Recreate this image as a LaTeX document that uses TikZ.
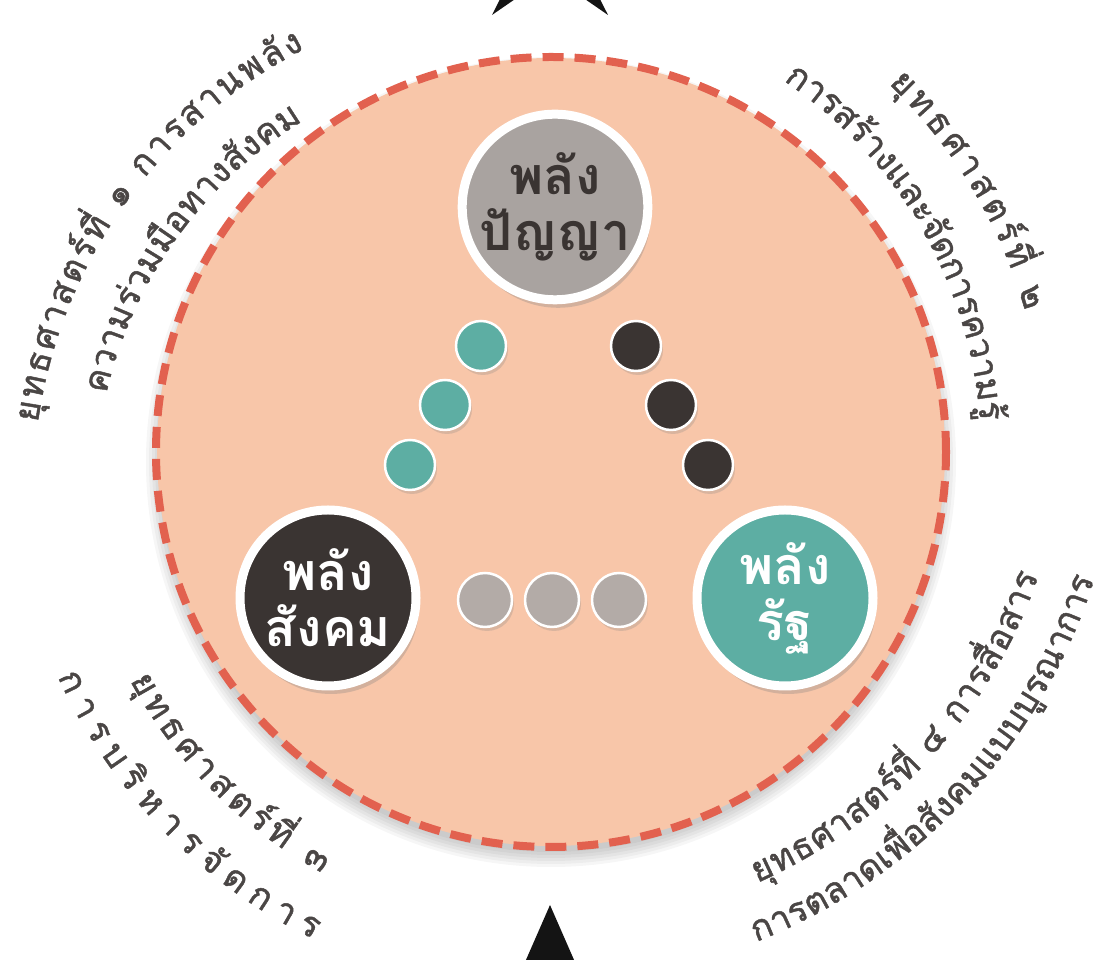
\documentclass[tikz,border=0pt]{standalone}
\usepackage{fontspec}
\setmainfont[Script=Thai]{Loma}
\newfontfamily\arcthai[Script=Thai, FakeBold=1.3]{Loma}
\usetikzlibrary{decorations.text,shadows}

\definecolor{peach}{HTML}{F8C6A9}
\definecolor{dashred}{HTML}{E2614F}
\definecolor{stateteal}{HTML}{5DAEA3}
\definecolor{socialdark}{HTML}{3A3432}
\definecolor{wisegrey}{HTML}{A9A3A0}
\definecolor{beadgrey}{HTML}{B3ABA7}
\definecolor{textgrey}{HTML}{4A4645}

\newcommand\arcfont{\arcthai\fontsize{35}{35}\selectfont}

\tikzset{
  power/.style={circle, draw=white, line width=9pt, minimum size=176pt, inner sep=0pt,
    align=center, font=\bfseries\fontsize{52}{56}\selectfont,
    drop shadow={shadow xshift=3pt, shadow yshift=-8pt, opacity=.3}},
  bead/.style={circle, draw=white, line width=2.5pt, minimum size=50pt, inner sep=0pt,
    drop shadow={shadow xshift=2pt, shadow yshift=-4pt, opacity=.25}},
  arctext/.style={decorate, decoration={text along path, text color=textgrey,
    text align=fit to path}}
}

\begin{document}
\begin{tikzpicture}[x=1pt,y=1pt]
  \useasboundingbox (0,0) rectangle (1111,960);
  \clip (0,0) rectangle (1111,960);
  \fill[white] (0,0) rectangle (1111,960);

  % arrow heads cut by the frame
  \fill[black!92] (550,1060) -- (608,945) -- (550,985) -- (492,945) -- cycle;
  \fill[black!92] (550,55) -- (515,-25) -- (585,-25) -- cycle;

  % the ring
  \foreach \r in {0,3,...,15}
    \fill[black, opacity=.035] (551,498) circle (390+\r);
  \fill[peach] (551,508) circle (394);
  \draw[dashred, line width=8pt, dash pattern=on 21pt off 11pt] (551,508) circle (395);

  % three powers
  \node[power, fill=wisegrey, text=socialdark] (wisdom) at (555,753) {พลัง\\ปัญญา};
  \node[power, fill=socialdark, text=white] (society) at (328,362) {พลัง\\สังคม};
  \node[power, fill=stateteal, text=white] (state) at (785,362) {พลัง\\รัฐ};

  % beads between them
  \node[bead, fill=stateteal] (t1) at (481,614) {};
  \node[bead, fill=stateteal] (t2) at (445,555) {};
  \node[bead, fill=stateteal] (t3) at (410,495) {};
  \node[bead, fill=socialdark] (d1) at (636,614) {};
  \node[bead, fill=socialdark] (d2) at (671,555) {};
  \node[bead, fill=socialdark] (d3) at (708,495) {};
  \node[bead, fill=beadgrey, minimum size=54pt] (g1) at (485,360) {};
  \node[bead, fill=beadgrey, minimum size=54pt] (g2) at (552,360) {};
  \node[bead, fill=beadgrey, minimum size=54pt] (g3) at (619,360) {};

  % strategy 1
  \path[arctext, decoration={text={|\arcfont|{ยุ}ทธศาสต{ร์}{ที่} ๑ การสานพ{ลั}ง}}]
    [shift={(530,468)}] (172:497) arc[start angle=172, end angle=117, radius=497];
  \path[arctext, decoration={text={|\arcfont|ความ{ร่}วม{มื}อทาง{สั}งคม}}]
    [shift={(530,468)}] (167:435) arc[start angle=167, end angle=121.5, radius=435];
  % strategy 2
  \path[arctext, decoration={text={|\arcfont|{ยุ}ทธศาสต{ร์}{ที่} ๒}}]
    [shift={(533,508)}] (46:512) arc[start angle=46, end angle=16, radius=512];
  \path[arctext, decoration={text={|\arcfont|การส{ร้}างและ{จั}ดการความ{รู้}}}]
    [shift={(533,508)}] (56:448) arc[start angle=56, end angle=4, radius=448];
  % strategy 3
  \path[arctext, decoration={text={|\arcfont|{ยุ}ทธศาสต{ร์}{ที่} ๓}}]
    [shift={(551,508)}] (208.5:479) arc[start angle=208.5, end angle=241.5, radius=479];
  \path[arctext, decoration={text={|\arcfont|การบ{ริ}หาร{จั}ดการ}}]
    [shift={(551,508)}] (204.5:542) arc[start angle=204.5, end angle=244, radius=542];
  % strategy 4
  \path[arctext, decoration={text={|\arcfont|{ยุ}ทธศาสต{ร์}{ที่} ๔ การ{สื่}อสาร}}]
    [shift={(545,554)}] (294:522) arc[start angle=294, end angle=341, radius=522];
  \path[arctext, decoration={text={|\arcfont|การตลาดเ{พื่}อ{สั}งคมแบบ{บู}รณาการ}}]
    [shift={(545,554)}] (291.5:576) arc[start angle=291.5, end angle=342.5, radius=576];
\end{tikzpicture}
\end{document}
